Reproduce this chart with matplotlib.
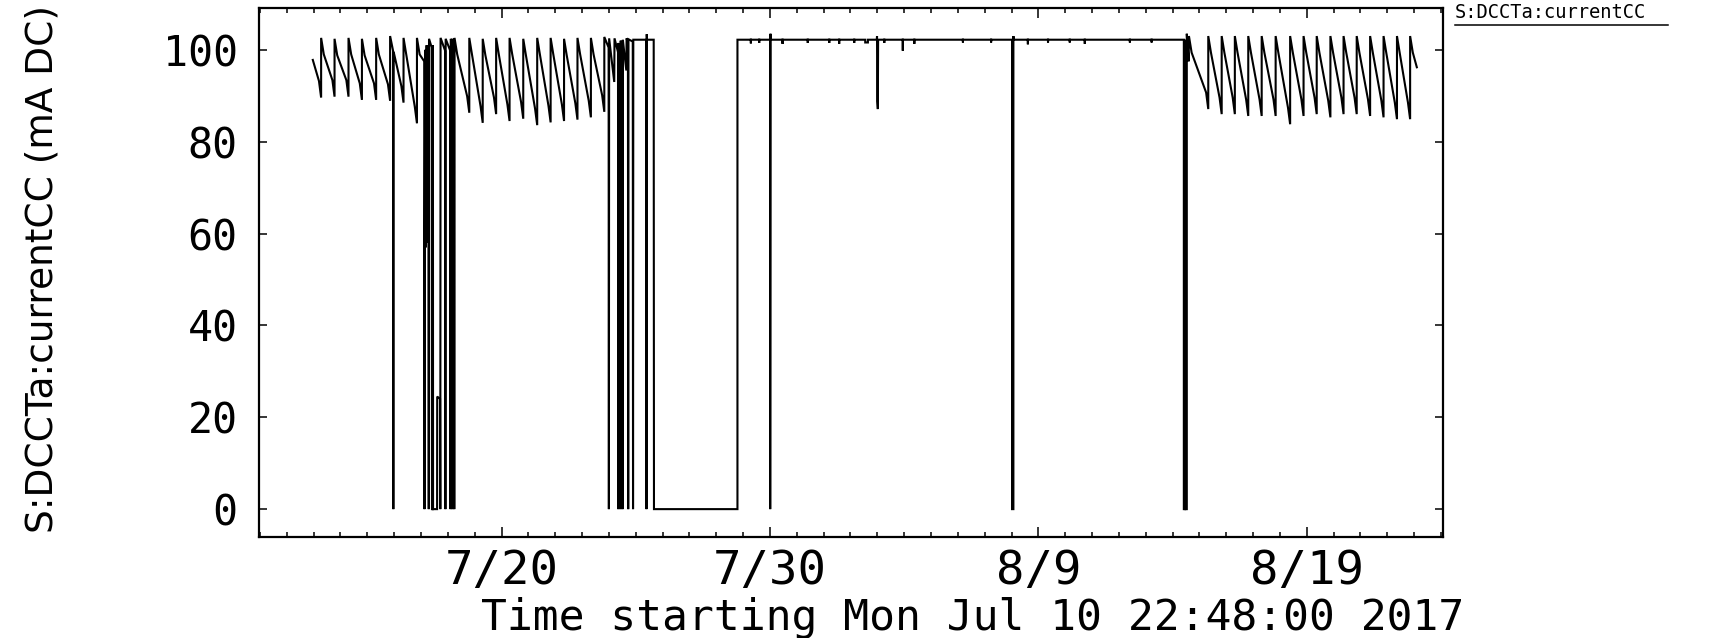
#!/usr/bin/env python3
"""
Beam current history plot - S:DCCTa:currentCC over ~44 days
"""

import matplotlib
matplotlib.use('Agg')
import matplotlib.pyplot as plt
from matplotlib.lines import Line2D
from datetime import datetime

START = datetime(2017, 7, 10, 22, 48)

# (days since START, current in mA)
# part 1: top-up sawtooth with beam trips
SEG1 = [(2.02, 97.8), (2.25, 93.2), (2.33, 89.6), (2.33, 102.6), (2.43, 99.0),
        (2.75, 93.4), (2.83, 89.8), (2.83, 102.4), (2.93, 98.8),
        (3.27, 93.4), (3.35, 89.8), (3.35, 102.6), (3.45, 99.0),
        (3.77, 92.7), (3.85, 89.1), (3.85, 102.4), (3.95, 98.8),
        (4.30, 92.7), (4.38, 89.1), (4.38, 102.6), (4.48, 99.0),
        (4.82, 92.5), (4.90, 88.9), (4.90, 103.0), (5.01, 99.8), (5.02, 0.0),
        (5.03, 99.6), (5.32, 92.1), (5.40, 88.5), (5.40, 102.6), (5.50, 99.0),
        (5.82, 87.6), (5.90, 84.0), (5.90, 102.6), (6.00, 99.0),
        (6.17, 97.5), (6.18, 0.0), (6.19, 57.0), (6.21, 100.0), (6.23, 57.0),
        (6.26, 101.0), (6.28, 58.0), (6.31, 101.0), (6.33, 99.5), (6.34, 0.0),
        (6.35, 102.4), (6.45, 100.5), (6.46, 0.0), (6.49, 0.0), (6.495, 101.0),
        (6.50, 0.0), (6.65, 0.0), (6.655, 24.5), (6.76, 24.0), (6.77, 0.0),
        (6.78, 102.6), (6.95, 99.8), (6.96, 0.0), (6.97, 102.4), (7.14, 99.8),
        (7.15, 0.0), (7.16, 102.4), (7.21, 101.5), (7.22, 0.0), (7.23, 102.4),
        (7.28, 101.5), (7.29, 0.0), (7.30, 102.6), (7.40, 99.0),
        (7.77, 89.9), (7.85, 86.3), (7.85, 102.6), (7.95, 99.0),
        (8.27, 87.7), (8.35, 84.1), (8.35, 102.4), (8.45, 98.8),
        (8.77, 89.6), (8.85, 86.0), (8.85, 102.6), (8.95, 99.0),
        (9.27, 88.1), (9.35, 84.5), (9.35, 102.6), (9.45, 99.0),
        (9.78, 88.6), (9.86, 85.0), (9.86, 102.4), (9.96, 98.8),
        (10.30, 87.2), (10.38, 83.6), (10.38, 102.6), (10.48, 99.0),
        (10.80, 87.8), (10.88, 84.2), (10.88, 102.6), (10.98, 99.0),
        (11.30, 88.1), (11.38, 84.5), (11.38, 102.4), (11.48, 98.8),
        (11.80, 88.4), (11.88, 84.8), (11.88, 102.6), (11.98, 99.0),
        (12.30, 88.9), (12.38, 85.3), (12.38, 102.6), (12.48, 99.0),
        (12.80, 90.1), (12.88, 86.5), (12.88, 102.8),
        (13.04, 100.5), (13.05, 0.0), (13.06, 102.5), (13.25, 93.0),
        (13.26, 102.5), (13.39, 99.5), (13.40, 0.0), (13.41, 101.5),
        (13.47, 97.5), (13.48, 0.0), (13.49, 102.0), (13.55, 99.0), (13.56, 0.0),
        (13.57, 102.2), (13.70, 95.5), (13.71, 102.5), (13.76, 101.5),
        (13.77, 0.0), (13.78, 102.3), (13.94, 101.8), (13.95, 0.0),
        (13.96, 102.2), (14.44, 102.2), (14.45, 0.0), (14.46, 103.4),
        (14.47, 102.2), (14.72, 102.2), (14.73, 0.0), (17.84, 0.0)]

# part 2: steady current with a few trips
SEG2 = [(17.84, 102.2), (18.34, 102.2), (18.34, 101.4), (18.34, 102.2),
        (18.65, 102.2), (18.65, 101.5), (18.65, 102.2),
        (19.06, 102.2), (19.06, 0.0), (19.07, 103.5), (19.08, 102.2),
        (19.52, 102.2), (19.52, 101.3), (19.52, 102.2),
        (20.46, 102.2), (20.46, 101.5), (20.46, 102.2),
        (21.26, 102.2), (21.26, 101.5), (21.26, 102.2),
        (21.63, 102.2), (21.63, 101.3), (21.63, 102.2),
        (22.19, 102.2), (22.19, 101.5), (22.19, 102.2),
        (22.60, 102.2), (22.60, 101.6), (22.70, 101.6), (22.70, 102.2),
        (23.03, 102.2), (23.04, 103.0), (23.05, 88.8), (23.07, 87.1),
        (23.08, 102.2), (23.31, 102.2), (23.31, 101.5), (23.31, 102.2),
        (24.00, 102.2), (24.00, 99.8), (24.00, 102.2),
        (24.43, 102.2), (24.43, 101.3), (24.43, 102.2),
        (26.24, 102.2), (26.24, 101.6), (26.24, 102.2),
        (27.29, 102.2), (27.29, 101.6), (27.29, 102.2),
        (28.07, 102.2), (28.07, 0.0), (28.12, 0.0), (28.12, 103.0),
        (28.13, 102.2), (28.66, 102.2), (28.66, 101.2), (28.66, 102.2),
        (29.41, 102.2), (29.41, 101.6), (29.41, 102.2),
        (30.22, 102.2), (30.22, 101.6), (30.22, 102.2),
        (30.78, 102.2), (30.78, 101.3), (30.78, 102.2),
        (32.46, 102.2), (32.46, 101.6), (32.46, 102.2),
        (33.27, 102.2), (33.27, 101.6), (33.27, 102.2),
        (34.47, 102.2), (34.47, 0.0), (34.52, 0.0), (34.52, 102.0),
        (34.53, 102.0), (34.53, 0.0), (34.58, 0.0)]

# part 3: top-up sawtooth again
SEG3 = [(34.58, 103.5), (34.65, 97.5), (34.66, 103.0), (34.76, 99.4),
        (35.30, 90.7), (35.38, 87.1), (35.38, 103.0), (35.48, 99.4),
        (35.80, 89.6), (35.88, 86.0), (35.88, 103.0), (35.98, 99.4),
        (36.29, 89.6), (36.37, 86.0), (36.37, 103.0), (36.47, 99.4),
        (36.79, 89.2), (36.87, 85.6), (36.87, 103.0), (36.97, 99.4),
        (37.29, 89.2), (37.37, 85.6), (37.37, 103.0), (37.47, 99.4),
        (37.81, 89.2), (37.89, 85.6), (37.89, 103.0), (37.99, 99.4),
        (38.35, 87.4), (38.43, 83.8), (38.43, 103.0), (38.53, 99.4),
        (38.85, 89.2), (38.93, 85.6), (38.93, 103.0), (39.03, 99.4),
        (39.34, 89.6), (39.42, 86.0), (39.42, 103.0), (39.52, 99.4),
        (39.85, 88.9), (39.93, 85.3), (39.93, 103.0), (40.03, 99.4),
        (40.34, 89.6), (40.42, 86.0), (40.42, 103.0), (40.52, 99.4),
        (40.83, 89.6), (40.91, 86.0), (40.91, 103.0), (41.01, 99.4),
        (41.33, 89.2), (41.41, 85.6), (41.41, 103.0), (41.51, 99.4),
        (41.83, 88.9), (41.91, 85.3), (41.91, 103.0), (42.01, 99.4),
        (42.33, 88.5), (42.41, 84.9), (42.41, 103.0), (42.51, 99.4),
        (42.82, 88.5), (42.90, 84.9), (42.90, 103.0), (43.00, 99.4),
        (43.15, 96.2)]

TICK_DATES = [datetime(2017, 7, 20), datetime(2017, 7, 30),
              datetime(2017, 8, 9), datetime(2017, 8, 19)]
TICK_LABELS = ['7/20', '7/30', '8/9', '8/19']
Y_TICKS = [0, 20, 40, 60, 80, 100]

PV_NAME = 'S:DCCTa:currentCC'
MONO = 'DejaVu Sans Mono'


def days_since_start(d):
    return (d - START).total_seconds() / 86400.0


def main():
    plt.rcParams['font.family'] = ['DejaVu Sans']

    fig = plt.figure(figsize=(17.17, 6.38), dpi=100)
    ax = fig.add_axes([0.1506, 0.1588, 0.6899, 0.8279])

    points = SEG1 + SEG2 + SEG3
    days = [p[0] for p in points]
    current = [p[1] for p in points]
    ax.plot(days, current, color='black', linewidth=1.5, solid_joinstyle='miter')

    ax.set_xlim(0, 44.13)
    ax.set_ylim(-6, 109)

    major = [days_since_start(d) for d in TICK_DATES]
    first_midnight = days_since_start(datetime(2017, 7, 11))
    minor = [first_midnight + k for k in range(45) if first_midnight + k < 44.13]
    ax.set_xticks(major)
    ax.set_xticklabels(TICK_LABELS, family=MONO, fontsize=34)
    ax.set_xticks(minor, minor=True)
    ax.set_yticks(Y_TICKS)
    ax.set_yticklabels([str(v) for v in Y_TICKS], family=MONO, fontsize=30)

    ax.tick_params(axis='x', which='both', direction='in', top=True, bottom=True)
    ax.tick_params(axis='x', which='major', length=7.5, width=1.1, pad=9)
    ax.tick_params(axis='x', which='minor', length=3.8, width=1.1)
    ax.tick_params(axis='y', direction='in', left=True, right=True, length=6,
                   width=1.1, pad=15)

    for spine in ax.spines.values():
        spine.set_linewidth(1.6)

    fig.text(0.0245, 0.578, PV_NAME + ' (mA DC)', rotation=90,
             ha='center', va='center', fontsize=27)
    fig.text(0.5667, 0.0125, 'Time starting Mon Jul 10 22:48:00 2017',
             ha='center', va='baseline', fontsize=31, family=MONO)

    # legend entry in the top right corner
    fig.text(0.8474, 0.9718, PV_NAME, ha='left', va='baseline', fontsize=13.5,
             family=MONO)
    fig.add_artist(Line2D([0.8474, 0.9715], [0.9608, 0.9608],
                          transform=fig.transFigure, color='black',
                          linewidth=1.1))

    fig.savefig('out.png', dpi=100)
    plt.close(fig)


if __name__ == "__main__":
    main()
